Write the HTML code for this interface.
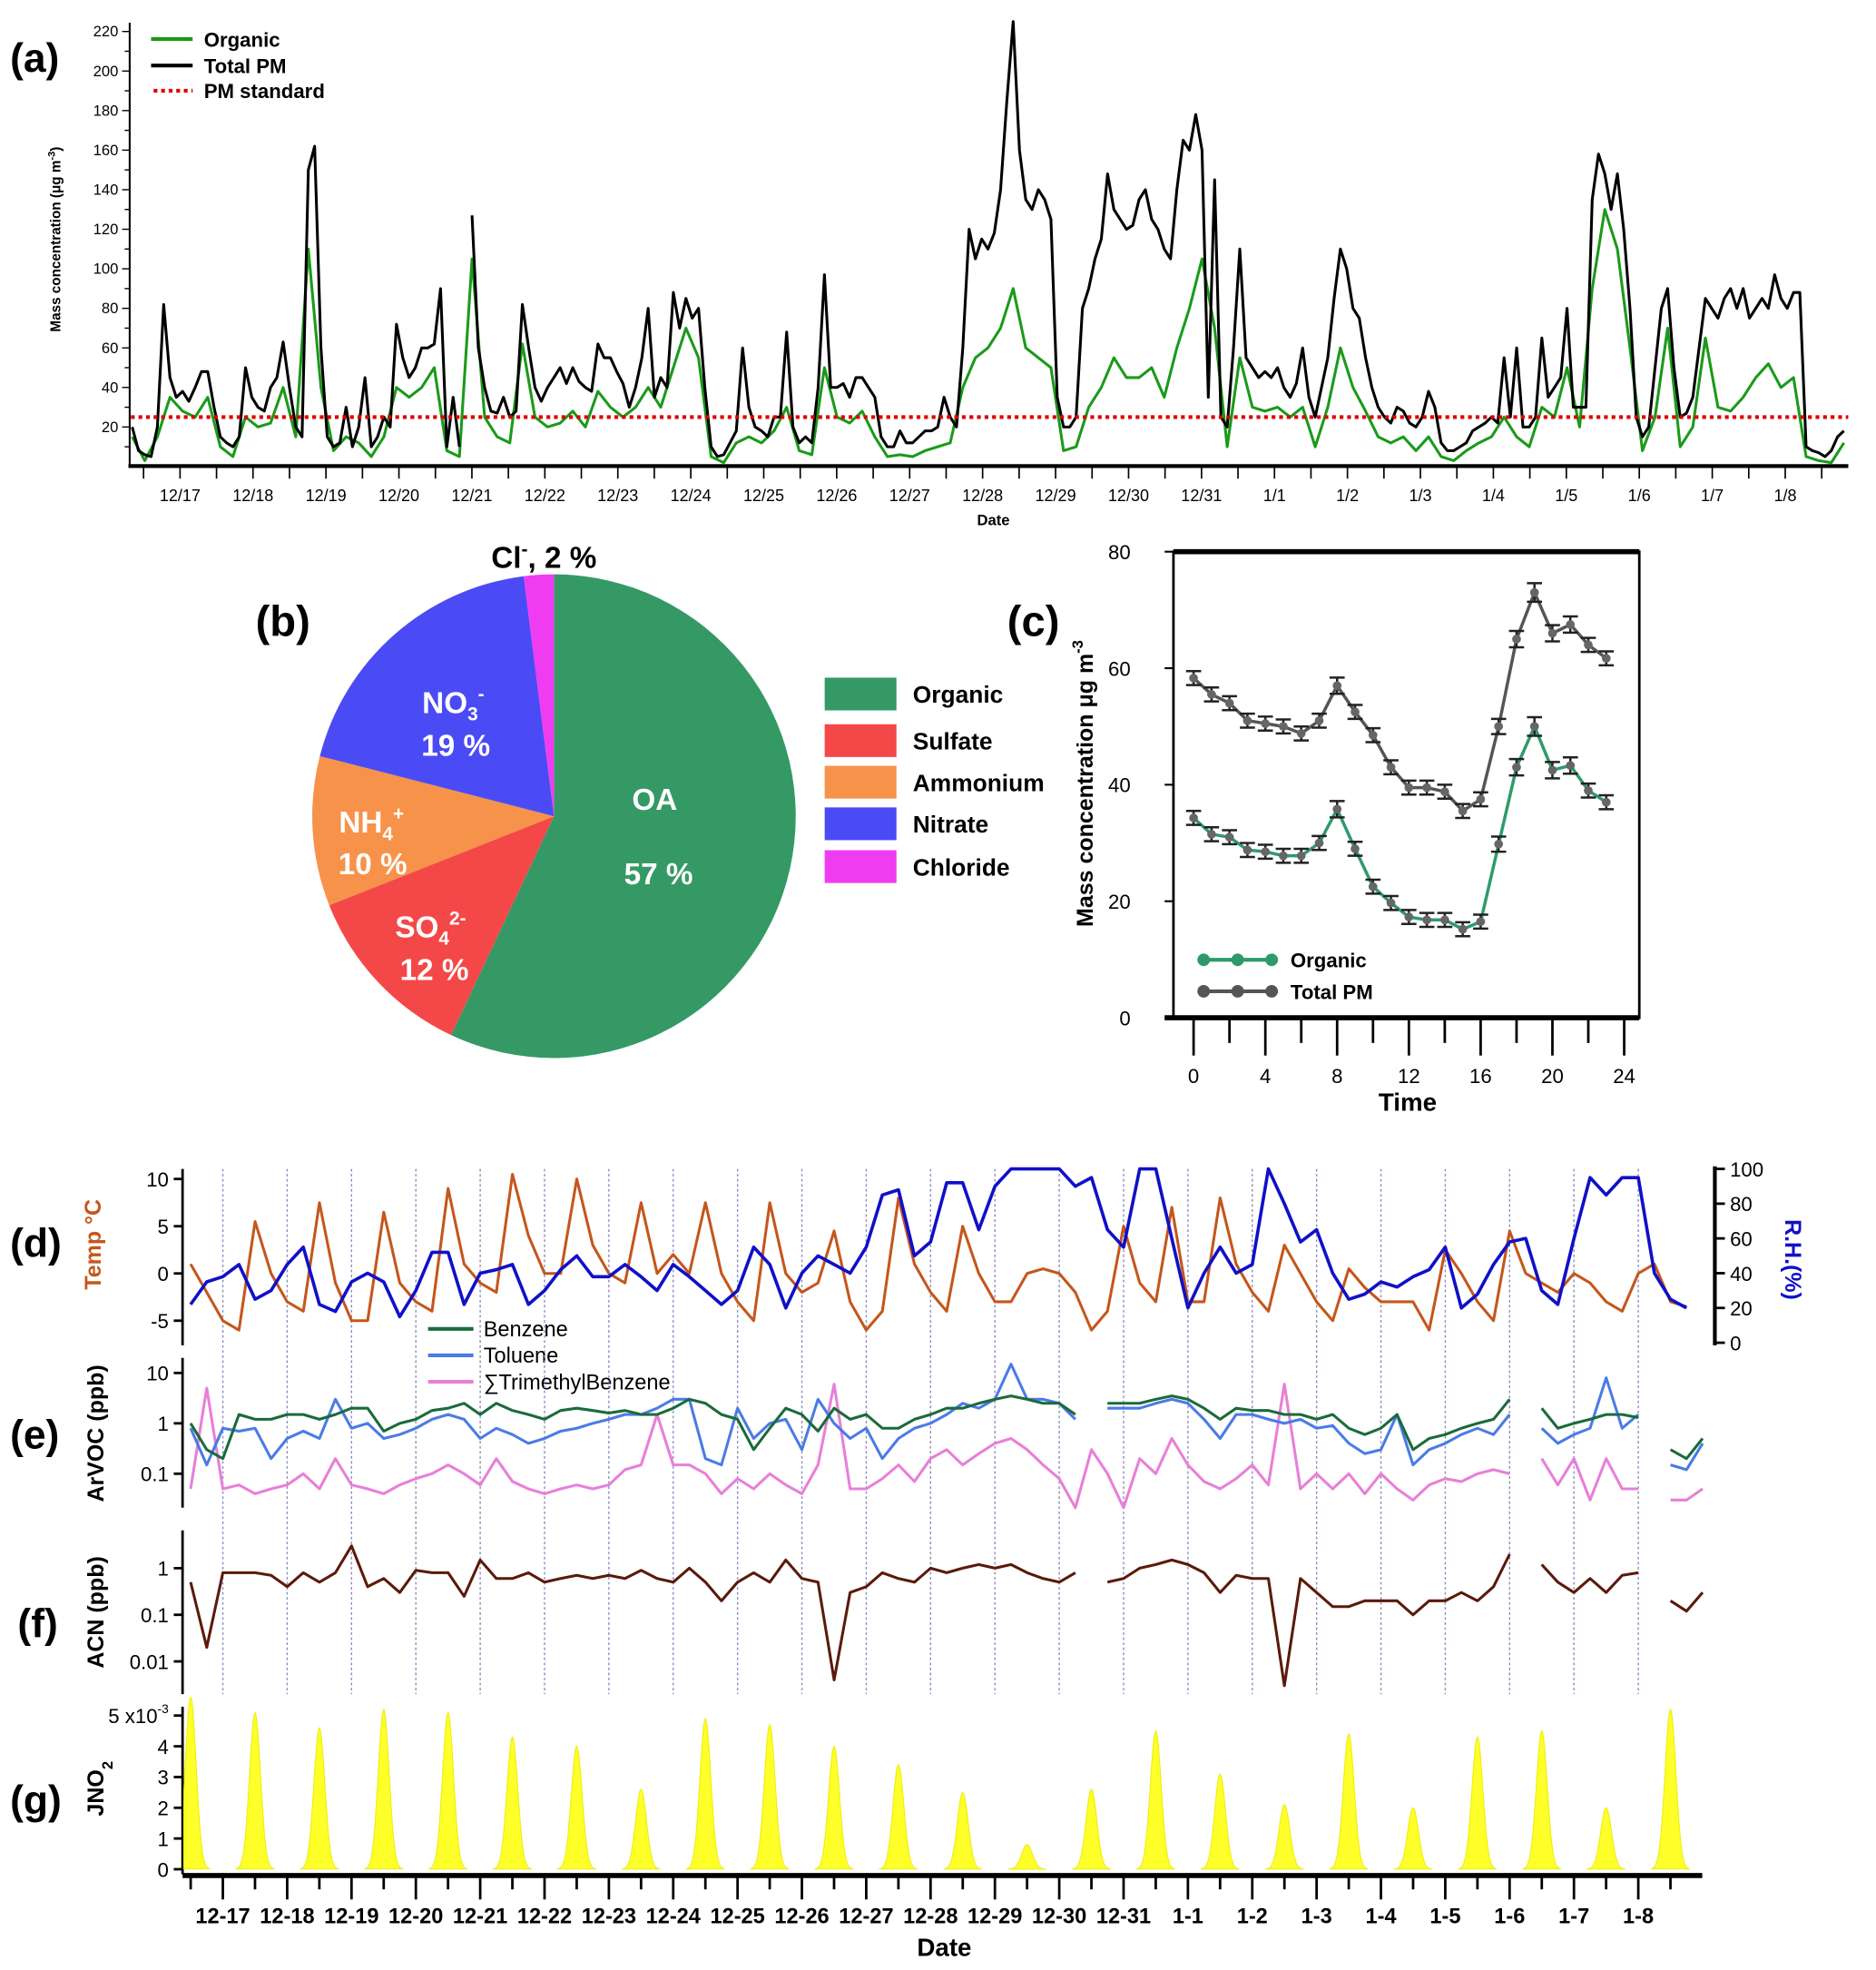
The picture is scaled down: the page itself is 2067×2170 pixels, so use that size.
<!DOCTYPE html>
<html><head><meta charset="utf-8"><title>PM composition and meteorology</title>
<style>
html,body{margin:0;padding:0;background:#fff;}
svg{display:block;font-family:"Liberation Sans",Arial,sans-serif;}
text{font-family:"Liberation Sans",Arial,sans-serif;}
</style></head>
<body>
<svg id="chart" xmlns="http://www.w3.org/2000/svg" width="2067" height="2170" viewBox="0 0 1490 1564" preserveAspectRatio="none">
<rect x="0" y="0" width="1490" height="1564" fill="#fff"/>
<!-- panel a static -->
<text x="8" y="57" font-size="32" font-weight="bold">(a)</text>
<text transform="translate(48,190) rotate(-90)" text-anchor="middle" font-size="11" font-weight="bold">Mass concentration (μg m<tspan baseline-shift="super" font-size="8">-3</tspan>)</text>
<text x="789" y="417" text-anchor="middle" font-size="12" font-weight="bold">Date</text>
<g>
<line x1="120" y1="31" x2="153" y2="31" stroke="#1a9a1a" stroke-width="3"/>
<text x="162" y="37" font-size="16" font-weight="bold">Organic</text>
<line x1="120" y1="52" x2="153" y2="52" stroke="#000" stroke-width="3"/>
<text x="162" y="58" font-size="16" font-weight="bold">Total PM</text>
<line x1="122" y1="72" x2="153" y2="72" stroke="#d00" stroke-width="3" stroke-dasharray="3,3"/>
<text x="162" y="78" font-size="16" font-weight="bold">PM standard</text>
</g>
<!-- panel b static -->
<text x="203" y="505" font-size="34" font-weight="bold">(b)</text>
<text x="800" y="505" font-size="34" font-weight="bold">(c)</text>
<text x="8" y="998" font-size="32" font-weight="bold">(d)</text>
<text x="8" y="1150" font-size="32" font-weight="bold">(e)</text>
<text x="14" y="1300" font-size="32" font-weight="bold">(f)</text>
<text x="8" y="1440" font-size="32" font-weight="bold">(g)</text>
<text transform="translate(80,988) rotate(-90)" text-anchor="middle" font-size="18" font-weight="bold" fill="#c5561c">Temp °C</text>
<text transform="translate(1418,1000) rotate(90)" text-anchor="middle" font-size="18" font-weight="bold" fill="#1010c8">R.H.(%)</text>
<text transform="translate(82,1138) rotate(-90)" text-anchor="middle" font-size="18" font-weight="bold">ArVOC (ppb)</text>
<text transform="translate(82,1280) rotate(-90)" text-anchor="middle" font-size="18" font-weight="bold">ACN (ppb)</text>
<text transform="translate(82,1420) rotate(-90)" text-anchor="middle" font-size="18" font-weight="bold">JNO<tspan font-size="12" baseline-shift="sub">2</tspan></text>
<text x="750" y="1553" text-anchor="middle" font-size="20" font-weight="bold">Date</text>
<g>
<line x1="340" y1="1055" x2="376" y2="1055" stroke="#1a6b3a" stroke-width="3"/>
<text x="384" y="1061" font-size="17">Benzene</text>
<line x1="340" y1="1076" x2="376" y2="1076" stroke="#4a7be6" stroke-width="3"/>
<text x="384" y="1082" font-size="17">Toluene</text>
<line x1="340" y1="1097" x2="376" y2="1097" stroke="#e87fd8" stroke-width="3"/>
<text x="384" y="1103" font-size="17">∑TrimethylBenzene</text>
</g>
</svg>
<script>
// ---------- Panel (a) data ----------
const aStartDay = -0.656;
const aStepDay = 2.07 / 24;
const aTotal = [20,8,6,5,20,82,45,35,38,33,40,48,48,30,15,12,10,15,50,35,30,28,40,45,63,40,20,15,150,162,60,15,10,12,30,10,20,45,10,15,25,20,72,55,45,50,60,60,62,90,10,35,10,null,127,60,40,28,27,35,25,28,82,60,40,33,40,45,50,42,50,43,40,38,62,55,55,48,42,30,40,55,80,35,45,40,88,70,85,75,80,40,10,5,6,12,18,60,30,20,18,15,25,25,68,20,12,15,12,40,97,40,40,42,35,45,45,40,35,15,10,10,18,12,12,15,18,18,20,35,25,20,60,120,105,115,110,118,140,185,225,160,135,130,140,135,125,35,20,20,25,80,90,105,115,148,130,125,120,122,135,140,125,120,110,105,140,165,160,178,160,35,145,25,20,60,110,55,50,45,48,45,50,40,35,42,60,35,25,40,55,85,110,100,80,75,55,40,30,25,22,30,28,22,20,25,38,30,12,8,8,10,12,18,20,22,25,22,55,25,60,20,20,25,65,35,40,45,80,30,30,30,135,158,148,130,148,120,80,25,15,20,50,80,90,50,25,27,35,60,85,80,75,85,90,80,90,75,80,85,80,97,85,80,88,88,10,8,7,5,8,15,18];
const aOrganic = [15,3,15,35,28,25,35,10,5,25,20,22,40,15,110,40,8,15,12,5,15,40,35,40,50,8,5,105,25,15,12,62,25,20,22,28,20,38,30,25,30,40,30,50,70,55,5,2,12,15,12,18,30,8,6,50,25,22,28,15,5,6,5,8,10,12,40,55,60,70,90,60,55,50,8,10,30,40,55,45,45,50,35,60,80,105,70,10,55,30,28,30,25,30,10,30,60,40,28,15,12,15,8,15,5,3,8,12,15,25,15,10,30,25,50,20,90,130,110,60,8,25,70,10,20,65,30,28,35,45,52,40,45,5,3,2,12];
const aStandard = 25;
const aTickValues = [20,40,60,80,100,120,140,160,180,200,220];
const aDateLabels = ["12/17","12/18","12/19","12/20","12/21","12/22","12/23","12/24","12/25","12/26","12/27","12/28","12/29","12/30","12/31","1/1","1/2","1/3","1/4","1/5","1/6","1/7","1/8"];

// ---------- Panel (b) data ----------
const pieNames = ["Organic","Sulfate","Ammonium","Nitrate","Chloride"];
const pieValues = [57,12,10,19,2];
const pieColors = ["#359966","#f44848","#f7924a","#4b4bf5","#f03cf0"];

// ---------- Panel (c) data ----------
const cHours = [0,1,2,3,4,5,6,7,8,9,10,11,12,13,14,15,16,17,18,19,20,21,22,23];
const cTotal = [58.3,55.5,54,51,50.5,50,48.8,51,57,52.5,48.5,43,39.5,39.5,38.8,35.5,37.5,50,65,73,66,67.5,64,61.7];
const cOrganic = [34.3,31.5,31,28.8,28.5,27.8,27.8,30,35.8,29,22.5,19.7,17.3,16.8,16.8,15.2,16.5,29.8,43,50,42.5,43.3,39,37];
const cErr = [1.2,1.2,1.2,1.2,1.2,1.2,1.2,1.2,1.4,1.2,1.2,1.2,1.2,1.2,1.2,1.2,1.2,1.3,1.4,1.6,1.4,1.4,1.2,1.2];
const cYTicks = [0,20,40,60,80];
const cXTicks = [0,4,8,12,16,20,24];

// ---------- Panels (d)-(g) data (6-hourly from 12-16 12:00) ----------
const dStartDay = -0.5;
const dStepDay = 0.25;
const temp = [1,-2,-5,-6,5.5,0,-3,-4,7.5,-1,-5,-5,6.5,-1,-3,-4,9,1,-1,-2,10.5,4,0,0,10,3,0,-1,7.5,0,2,0,7.5,0,-3,-5,7.5,0,-2,-1,4.5,-3,-6,-4,8,1,-2,-4,5,0,-3,-3,0,0.5,0,-2,-6,-4,5,-1,-3,7,-3,-3,8,1,-2,-4,3,0,-3,-5,0.5,-1.5,-3,-3,-3,-6,2.5,0,-3,-5,4.5,0,-1,-2,0,-1,-3,-4,0,1,-3,-3.5];
const rh = [22,35,38,45,25,30,45,55,22,18,35,40,35,15,30,52,52,22,40,42,45,22,30,42,50,38,38,45,38,30,45,38,30,22,30,55,45,20,40,50,45,40,55,85,88,50,58,92,92,65,90,100,100,100,100,90,95,65,55,100,100,60,20,40,55,40,45,100,80,58,65,40,25,28,35,32,38,42,55,20,28,45,58,60,30,22,60,95,85,95,95,40,25,20];
const benzene = [1.0,0.3,0.2,1.5,1.2,1.2,1.5,1.5,1.2,1.5,2,2,0.7,1.0,1.2,1.8,2,2.5,1.5,2.5,1.8,1.5,1.2,1.8,2,1.8,1.6,1.8,1.5,1.5,2,3,2.5,1.5,1.2,0.3,0.8,2,1.5,0.7,2,1.2,1.5,0.8,0.8,1.2,1.5,2,2,2.5,3,3.5,3,2.5,2.5,1.5,null,2.5,2.5,2.5,3,3.5,3,2,1.2,2,1.8,1.8,1.5,1.5,1.2,1.5,0.8,0.6,0.8,1.5,0.3,0.5,0.6,0.8,1.0,1.2,3,null,2,0.8,1.0,1.2,1.5,1.5,1.3,null,0.3,0.2,0.5];
const toluene = [0.8,0.15,0.8,0.7,0.8,0.2,0.5,0.7,0.5,3,0.8,1.0,0.5,0.6,0.8,1.2,1.5,1.2,0.5,0.8,0.6,0.4,0.5,0.7,0.8,1.0,1.2,1.5,1.5,2,3,3,0.2,0.15,2,0.5,1.0,1.2,0.3,3,1.0,0.5,0.8,0.2,0.5,0.8,1.0,1.5,2.5,2,3,15,3,3,2.5,1.2,null,2,2,2,2.5,3,2.5,1.2,0.5,1.5,1.5,1.2,1.0,1.2,0.8,0.9,0.4,0.25,0.3,1.5,0.15,0.3,0.4,0.6,0.8,0.6,1.5,null,0.8,0.4,0.6,0.8,8,0.8,1.5,null,0.15,0.12,0.4];
const tmb = [0.05,5,0.05,0.06,0.04,0.05,0.06,0.1,0.05,0.2,0.06,0.05,0.04,0.06,0.08,0.1,0.15,0.1,0.06,0.2,0.07,0.05,0.04,0.05,0.06,0.05,0.06,0.12,0.15,1.5,0.15,0.15,0.1,0.04,0.08,0.05,0.1,0.06,0.04,0.15,6,0.05,0.05,0.08,0.15,0.07,0.2,0.3,0.15,0.25,0.4,0.5,0.3,0.15,0.08,0.02,0.3,0.1,0.02,0.2,0.1,0.5,0.15,0.07,0.05,0.08,0.15,0.06,6,0.05,0.1,0.05,0.1,0.04,0.1,0.05,0.03,0.06,0.08,0.07,0.1,0.12,0.1,null,0.2,0.06,0.2,0.03,0.2,0.05,0.05,null,0.03,0.03,0.05];
const acn = [0.5,0.02,0.8,0.8,0.8,0.7,0.4,0.8,0.5,0.8,3,0.4,0.6,0.3,0.9,0.8,0.8,0.25,1.5,0.6,0.6,0.8,0.5,0.6,0.7,0.6,0.7,0.6,0.9,0.6,0.5,1.0,0.5,0.2,0.5,0.8,0.5,1.5,0.6,0.5,0.004,0.3,0.4,0.8,0.6,0.5,1.0,0.8,1.0,1.2,1.0,1.2,0.8,0.6,0.5,0.8,null,0.5,0.6,1.0,1.2,1.5,1.2,0.8,0.3,0.7,0.6,0.6,0.003,0.6,0.3,0.15,0.15,0.2,0.2,0.2,0.1,0.2,0.2,0.3,0.2,0.4,2,null,1.2,0.5,0.3,0.6,0.3,0.7,0.8,null,0.2,0.12,0.3];
const jno2Peaks = [5.6,5.1,4.6,5.2,5.1,4.3,4.0,2.6,4.9,4.7,4.0,3.4,2.5,0.8,2.6,4.5,3.1,2.1,4.4,2.0,4.3,4.5,2.0,5.2];
const dDateLabels = ["12-17","12-18","12-19","12-20","12-21","12-22","12-23","12-24","12-25","12-26","12-27","12-28","12-29","12-30","12-31","1-1","1-2","1-3","1-4","1-5","1-6","1-7","1-8"];
const tempTicks = [-5,0,5,10];
const rhTicks = [0,20,40,60,80,100];
const eTicks = [0.1,1,10];
const eTickLabels = ["0.1","1","10"];
const fTicks = [0.01,0.1,1];
const fTickLabels = ["0.01","0.1","1"];
const gTicks = [0,1,2,3,4,5];

const svg = document.getElementById('chart');
const NS = 'http://www.w3.org/2000/svg';
function mk(tag, attrs, parent){
  const e = document.createElementNS(NS, tag);
  for (const k in attrs) e.setAttribute(k, attrs[k]);
  (parent || svg).appendChild(e);
  return e;
}
function grp(){ return mk('g', {}); }
function pathFrom(vals, xf, yf){
  let d = '', pen = false;
  vals.forEach((v, i) => {
    if (v === null) { pen = false; return; }
    d += (pen ? 'L' : 'M') + xf(i).toFixed(1) + ' ' + yf(v).toFixed(1);
    pen = true;
  });
  return d;
}
function txt(parent, x, y, s, size, anchor, extra){
  const t = mk('text', Object.assign({x:x, y:y, 'font-size':size, 'text-anchor':anchor||'start'}, extra||{}), parent);
  t.textContent = s;
  return t;
}

// ===== Panel (a) =====
const xA = d => 143 + 57.95 * d;
const yA = v => 370.4 - v * 1.57;
const gA = grp();


let e;
e = mk('line', {x1:103, y1:18, x2:103, y2:371, stroke:'#000', 'stroke-width':1.5}, gA);


e = mk('line', {x1:102, y1:370, x2:1468, y2:370, stroke:'#000', 'stroke-width':3}, gA);


for (let v = 10; v <= 220; v += 10) {
  const major = aTickValues.includes(v);
  e = mk('line', {x1:major?97:99, y1:yA(v), x2:103, y2:yA(v), stroke:'#000', 'stroke-width':1}, gA);
  
  
}
aTickValues.forEach(v => {
  const t = txt(gA, 94, yA(v) + 4, String(v), 12, 'end');
  
  
});
for (let h = -0.5; h <= 23.0; h += 0.5) {
  const x = xA(h);
  if (x < 104 || x > 1468) continue;
  e = mk('line', {x1:x, y1:370, x2:x, y2:380, stroke:'#000', 'stroke-width':1.2}, gA);
  
  
}
aDateLabels.forEach((s, i) => {
  const t = txt(gA, xA(i), 398, s, 13, 'middle');
  
  
});
e = mk('path', {d: pathFrom(aOrganic, i => xA(aStartDay + i * 2 * aStepDay), yA), fill:'none', stroke:'#1a9a1a', 'stroke-width':2.2, 'stroke-linejoin':'round'}, gA);


e = mk('path', {d: pathFrom(aTotal, i => xA(aStartDay + i * aStepDay), yA), fill:'none', stroke:'#000', 'stroke-width':2.2, 'stroke-linejoin':'round'}, gA);


e = mk('line', {x1:104, y1:yA(aStandard), x2:1468, y2:yA(aStandard), stroke:'#d00', 'stroke-width':3, 'stroke-dasharray':'3,3'}, gA);



// ===== Panel (b) =====
const gB = grp();


const pcx = 440, pcy = 648, pr = 192;
const pieSum = pieValues.reduce((a, b) => a + b, 0);
let ang = -Math.PI / 2;
pieValues.forEach((v, i) => {
  const a2 = ang + v / pieSum * 2 * Math.PI;
  const large = (a2 - ang) > Math.PI ? 1 : 0;
  const d = `M${pcx} ${pcy}L${pcx + pr * Math.cos(ang)} ${pcy + pr * Math.sin(ang)}A${pr} ${pr} 0 ${large} 1 ${pcx + pr * Math.cos(a2)} ${pcy + pr * Math.sin(a2)}Z`;
  const s = mk('path', {d: d, fill: pieColors[i]}, gB);
  
  
  ang = a2;
});
function pieLabel(x, y, html, name, color){
  const t = mk('text', {x:x, y:y, 'font-size':24, 'font-weight':'bold', fill:color||'#fff', 'text-anchor':'middle'}, gB);
  t.innerHTML = html;
  
  
}
pieLabel(520, 643, 'OA', 'oa-label');
pieLabel(523, 702, pieValues[0] + ' %', 'oa-percent');
pieLabel(360, 566, 'NO<tspan font-size="15" dy="6">3</tspan><tspan font-size="15" dy="-16">-</tspan>', 'nitrate-label');
pieLabel(362, 600, pieValues[3] + ' %', 'nitrate-percent');
pieLabel(295, 661, 'NH<tspan font-size="15" dy="6">4</tspan><tspan font-size="15" dy="-16">+</tspan>', 'ammonium-label');
pieLabel(296, 694, pieValues[2] + ' %', 'ammonium-percent');
pieLabel(342, 744, 'SO<tspan font-size="15" dy="6">4</tspan><tspan font-size="15" dy="-16">2-</tspan>', 'sulfate-label');
pieLabel(345, 778, pieValues[1] + ' %', 'sulfate-percent');
pieLabel(432, 451, 'Cl<tspan font-size="15" dy="-10">-</tspan><tspan dy="10">, ' + pieValues[4] + ' %</tspan>', 'chloride-label', '#000');
const legY = [538, 575, 608, 641, 675];
pieNames.forEach((n, i) => {
  const r = mk('rect', {x:655, y:legY[i], width:57, height:26, fill:pieColors[i]}, gB);
  
  
  const t = txt(gB, 725, legY[i] + 20, n, 19, 'start', {'font-weight':'bold'});
  
  
});

// ===== Panel (c) =====
const xC = h => 948 + h * 14.25;
const yC = v => 808 - v * 4.625;
const gC = grp();


e = mk('rect', {x:932, y:438, width:370, height:370, fill:'none', stroke:'#000', 'stroke-width':2}, gC);


e = mk('line', {x1:932, y1:438, x2:1302, y2:438, stroke:'#000', 'stroke-width':4}, gC);


e = mk('line', {x1:925, y1:808, x2:1302, y2:808, stroke:'#000', 'stroke-width':4}, gC);


cYTicks.forEach(v => {
  e = mk('line', {x1:925, y1:yC(v), x2:932, y2:yC(v), stroke:'#000', 'stroke-width':1.5}, gC);
  
  
  const t = txt(gC, 898, yC(v) + 6, String(v), 16, 'end');
  
  
});
for (let h = 0; h <= 24; h += 2) {
  const maj = h % 4 === 0;
  e = mk('line', {x1:xC(h), y1:808, x2:xC(h), y2:maj ? 838 : 828, stroke:'#000', 'stroke-width':2}, gC);
  
  
}
cXTicks.forEach(h => {
  const t = txt(gC, xC(h), 860, String(h), 16, 'middle');
  
  
});
e = txt(gC, 1118, 882, 'Time', 20, 'middle', {'font-weight':'bold'});


e = mk('text', {transform:'translate(868,622) rotate(-90)', 'text-anchor':'middle', 'font-size':18, 'font-weight':'bold'}, gC);
e.innerHTML = 'Mass concentration μg m<tspan font-size="12" dy="-8">-3</tspan>';


function cSeries(vals, color, name){
  const p = mk('path', {d: pathFrom(vals, i => xC(cHours[i]), yC), fill:'none', stroke:color, 'stroke-width':2.5}, gC);
  
  
  vals.forEach((v, i) => {
    const x = xC(cHours[i]);
    const eb = mk('path', {d:`M${x} ${yC(v + cErr[i])}V${yC(v - cErr[i])}M${x - 6} ${yC(v + cErr[i])}H${x + 6}M${x - 6} ${yC(v - cErr[i])}H${x + 6}`, stroke:'#222', 'stroke-width':1.8, fill:'none'}, gC);
    
    
    const c = mk('circle', {cx:x, cy:yC(v), r:3.5, fill:'#666'}, gC);
    
    
  });
}
cSeries(cTotal, '#555', 'c-total-pm');
cSeries(cOrganic, '#2e9a6a', 'c-organic');
[['Organic', '#2e9a6a', 762], ['Total PM', '#555', 787]].forEach(([n, col, y]) => {
  const l = mk('line', {x1:952, y1:y, x2:1015, y2:y, stroke:col, 'stroke-width':3}, gC);
  
  
  [956, 983, 1010].forEach(cx => {
    const c = mk('circle', {cx:cx, cy:y, r:5, fill:col}, gC);
    
    
  });
  const t = txt(gC, 1025, y + 6, n, 16, 'start', {'font-weight':'bold'});
  
  
});

// ===== Panels (d)-(g) =====
const xD = d => 177 + 51.1 * d;
const xi = i => xD(dStartDay + i * dStepDay);
const yT = v => 1011 - v * 7.5;
const yRH = v => 1066 - v * 1.38;
const yE = v => Math.min(1197, 1130 - 40 * Math.log10(v));
const yF = v => Math.min(1343, 1245 - 37 * Math.log10(v));
const yG = v => 1484 - v * 24.4;
const gD = grp();


// dotted day lines
for (let k = 0; k < dDateLabels.length; k++) {
  e = mk('line', {x1:xD(k), y1:928, x2:xD(k), y2:1345, stroke:'#8a8ac0', 'stroke-width':1, 'stroke-dasharray':'2,2'}, gD);
  
  
}
// axes
[[928,1068,'d'],[1078,1197,'e'],[1215,1345,'f'],[1355,1488,'g']].forEach(([y1, y2, p]) => {
  e = mk('line', {x1:145, y1:y1, x2:145, y2:y2, stroke:'#000', 'stroke-width':2}, gD);
  
  
});
e = mk('line', {x1:1362, y1:926, x2:1362, y2:1068, stroke:'#000', 'stroke-width':3}, gD);


function yTick(y, label, name, right, color){
  const l = mk('line', {x1:right ? 1362 : 138, y1:y, x2:right ? 1370 : 145, y2:y, stroke:'#000', 'stroke-width':2}, gD);
  
  
  const t = txt(gD, right ? 1374 : 134, y + 6, label, 16, right ? 'start' : 'end', color ? {fill: color} : {});
  
  
}
tempTicks.forEach(v => yTick(yT(v), String(v), 'temp'));
rhTicks.forEach(v => yTick(yRH(v), String(v), 'rh', true));
eTicks.forEach((v, i) => yTick(yE(v), eTickLabels[i], 'arvoc'));
fTicks.forEach((v, i) => yTick(yF(v), fTickLabels[i], 'acn'));
gTicks.forEach(v => yTick(yG(v), v === 5 ? '' : String(v), 'jno2'));
e = mk('text', {x:134, y:yG(5) + 6, 'font-size':16, 'text-anchor':'end'}, gD);
e.innerHTML = '5 x10<tspan font-size="10" dy="-8">-3</tspan>';



// series
function series(vals, yf, color, name, w){
  const p = mk('path', {d: pathFrom(vals, xi, yf), fill:'none', stroke:color, 'stroke-width':w || 2.2, 'stroke-linejoin':'round'}, gD);
  
  
}
series(temp, yT, '#c5561c', 'temperature-series');
series(rh, yRH, '#1010c8', 'rh-series', 2.6);
series(tmb, yE, '#e87fd8', 'tmb-series');
series(toluene, yE, '#4a7be6', 'toluene-series');
series(benzene, yE, '#1a6b3a', 'benzene-series');
series(acn, yF, '#5a1a0a', 'acn-series');

// JNO2 peaks
const gJ = mk('g', {}, gD);


jno2Peaks.forEach((pk, j) => {
  const c = j - 0.5;
  let d = '';
  for (let s = -20; s <= 20; s++) {
    const t = c + s * 0.015;
    const x = Math.max(146, xD(t));
    const v = pk * Math.exp(-Math.pow(s * 0.015 / 0.085, 2) / 2);
    d += (s === -20 ? 'M' : 'L') + x.toFixed(1) + ' ' + yG(v).toFixed(1);
  }
  d += 'Z';
  const p = mk('path', {d: d, fill:'#ffff2a', stroke:'#eeee10', 'stroke-width':0.8}, gJ);
  
  
});
// bottom date axis
e = mk('line', {x1:145, y1:1489, x2:1352, y2:1489, stroke:'#000', 'stroke-width':4}, gD);


for (let q = -1; q <= 46; q++) {
  const x = xD(q / 2);
  if (x < 146 || x > 1352) continue;
  const maj = q % 2 === 0;
  e = mk('line', {x1:x, y1:1489, x2:x, y2:maj ? 1508 : 1500, stroke:'#000', 'stroke-width':2}, gD);
  
  
}
dDateLabels.forEach((s, i) => {
  const t = txt(gD, xD(i), 1527, s, 17, 'middle', {'font-weight':'bold'});
  
  
});
</script>
</body></html>
